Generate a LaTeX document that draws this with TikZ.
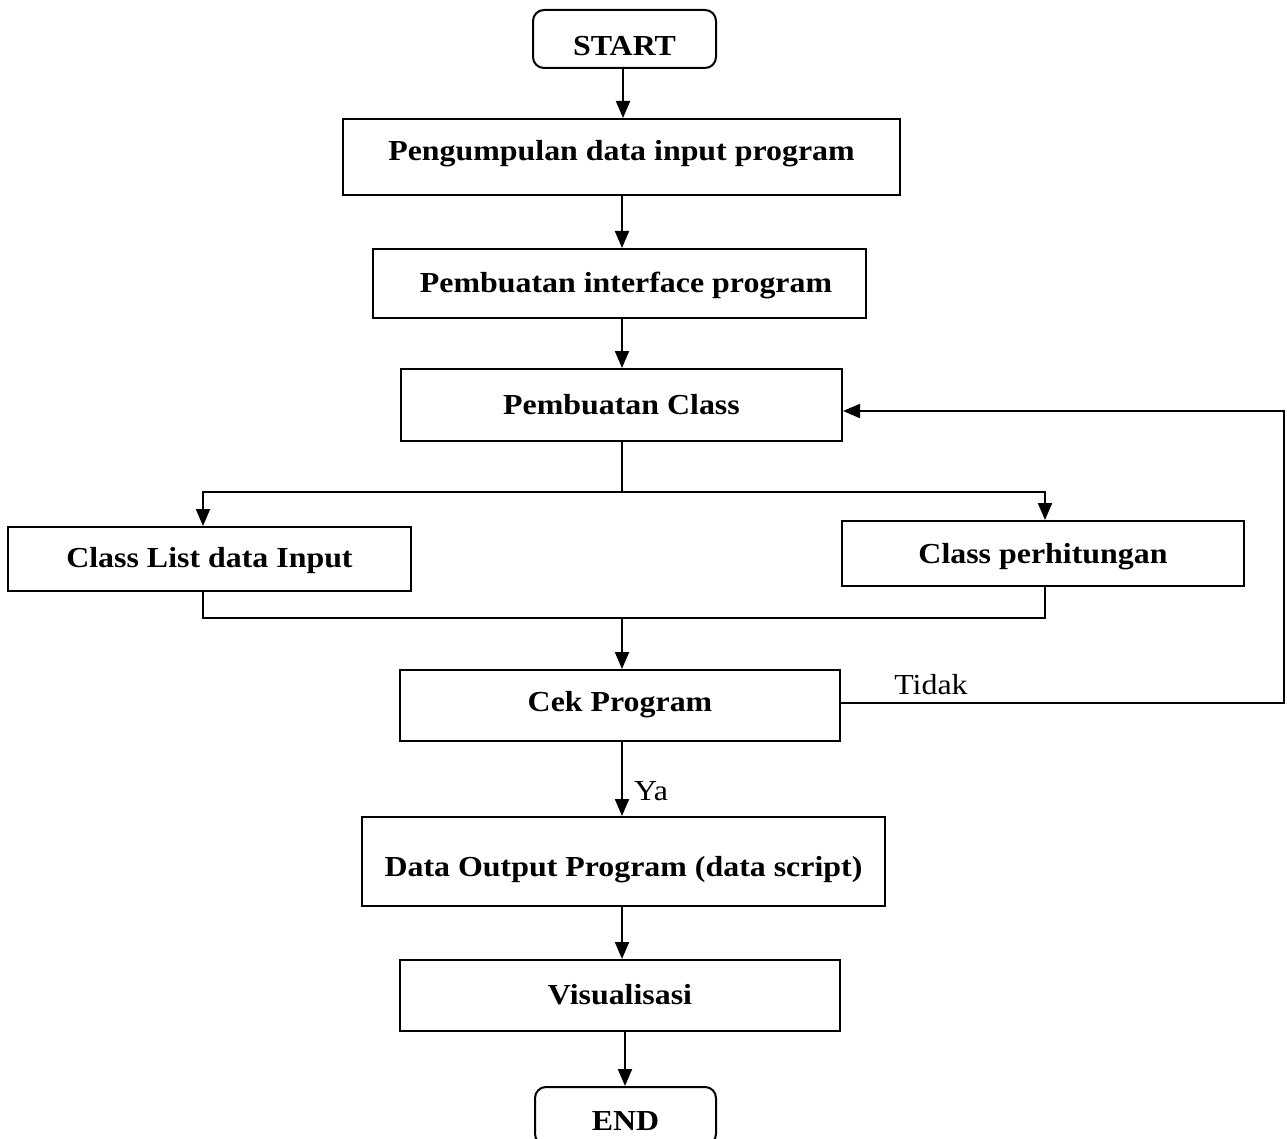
\documentclass[tikz,border=0pt]{standalone}
\usepackage{fontspec}
\setmainfont{Liberation Serif}
\usetikzlibrary{arrows.meta}
\begin{document}
\begin{tikzpicture}[x=1pt,y=-1pt,
  box/.style={draw,line width=2pt,rectangle,inner sep=0pt},
  term/.style={box,rounded corners=11pt},
  txt/.style={font=\fontsize{29}{33}\selectfont\bfseries,inner sep=0pt,xscale=1.1,yshift=-3pt},
  lbl/.style={font=\fontsize{29}{33}\selectfont,inner sep=0pt,xscale=1.1},
  conn/.style={line width=2pt},
  arr/.style={conn,-{Triangle[length=17pt,width=14pt]}}]
\useasboundingbox (0,0) rectangle (1287,1139);
\node[term,minimum width=183pt,minimum height=58pt] (start) at (624.5,39) {};
\node[txt] at (624.5,43) {START};
\node[box,minimum width=557pt,minimum height=76pt] (b1) at (621.5,157) {};
\node[txt] at (621.5,151) {Pengumpulan data input program};
\node[box,minimum width=493pt,minimum height=69pt] (b2) at (619.5,283.5) {};
\node[txt] at (626,282) {Pembuatan interface program};
\node[box,minimum width=441pt,minimum height=72pt] (b3) at (621.5,405) {};
\node[txt] at (621.5,402) {Pembuatan Class};
\node[box,minimum width=403pt,minimum height=64pt] (b4) at (209.5,559) {};
\node[txt] at (209.5,558) {Class List data Input};
\node[box,minimum width=402pt,minimum height=65pt] (b5) at (1043,553.5) {};
\node[txt] at (1043,554) {Class perhitungan};
\node[box,minimum width=440pt,minimum height=71pt] (cek) at (620,705.5) {};
\node[txt] at (620,702) {Cek Program};
\node[box,minimum width=523pt,minimum height=89pt] (out) at (623.5,861.5) {};
\node[txt] at (623.5,867) {Data Output Program (data script)};
\node[box,minimum width=440pt,minimum height=71pt] (vis) at (620,995.5) {};
\node[txt] at (620,992) {Visualisasi};
\node[term,minimum width=181pt,minimum height=58pt] (end) at (625.5,1116) {};
\node[txt] at (625.5,1118) {END};
\node[lbl] (tidak) at (931,685) {Tidak};
\node[lbl] (ya) at (651,791) {Ya};
\coordinate (split) at (622,492);
\coordinate (merge) at (622,618);
\coordinate (loopA) at (1284,703);
\coordinate (loopB) at (1284,411);
\draw[arr] (start.south -| 623,0) -- (b1.north -| 623,0);
\draw[arr] (b1.south -| 622,0) -- (b2.north -| 622,0);
\draw[arr] (b2.south -| 622,0) -- (b3.north -| 622,0);
\draw[conn] (b3.south -| split) -- (split);
\draw[arr] (split) -| (b4.north -| 203,0);
\draw[arr] (split) -| (b5.north -| 1045,0);
\draw[conn] (b4.south -| 203,0) |- (merge) -| (b5.south -| 1045,0);
\draw[arr] (merge) -- (cek.north -| merge);
\draw[arr] (cek.east |- loopA) -- (loopA) -- (loopB) -- (b3.east |- loopB);
\draw[arr] (cek.south -| 622,0) -- (out.north -| 622,0);
\draw[arr] (out.south -| 622,0) -- (vis.north -| 622,0);
\draw[arr] (vis.south -| 625,0) -- (end.north -| 625,0);
\end{tikzpicture}
\end{document}
